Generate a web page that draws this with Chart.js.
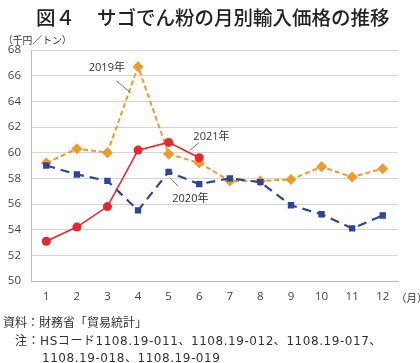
<!DOCTYPE html>
<html><head><meta charset="utf-8">
<script src="https://cdn.jsdelivr.net/npm/chart.js@4.4.0/dist/chart.umd.min.js"></script>
<style>
html,body{margin:0;padding:0;background:#fff;}
#wrap{position:relative;width:420px;height:363px;overflow:hidden;font-family:"Noto Sans CJK JP","Noto Sans",sans-serif;color:#333;}
#c{position:absolute;left:0;top:0;}
.t{position:absolute;white-space:nowrap;}
.f{font-family:"DejaVu Sans","Noto Sans CJK JP",sans-serif;font-size:12px;color:#333;}
</style></head><body>
<div id="wrap">
<canvas id="c" width="420" height="363"></canvas>
<div class="t" style="left:36px;top:2px;font-size:19.5px;font-weight:500;color:#222;">図４</div>
<div class="t" style="left:97px;top:2px;font-size:19.5px;font-weight:500;color:#222;">サゴでん粉の月別輸入価格の推移</div>
<div class="t" style="left:3px;top:33px;font-size:9.8px;">（千円／トン）</div>
<div class="t" style="left:396px;top:290px;font-size:10.5px;">（月）</div>
<div class="t f" style="left:3px;top:313px;">資料：財務省「貿易統計」</div>
<div class="t f" style="left:15px;top:331px;letter-spacing:0.55px;">注：HSコード1108.19-011、1108.19-012、1108.19-017、</div>
<div class="t f" style="left:42px;top:348px;letter-spacing:0.55px;">1108.19-018、1108.19-019</div>
</div>
<script>
const months = ["1","2","3","4","5","6","7","8","9","10","11","12"];
const yTicksMin = 50, yTicksMax = 68, yStep = 2;
const v2019 = [59.2, 60.3, 60.0, 66.7, 59.9, 59.2, 57.8, 57.8, 57.9, 58.9, 58.1, 58.75];
const v2020 = [59.0, 58.3, 57.8, 55.5, 58.5, 57.55, 58.0, 57.7, 55.9, 55.2, 54.1, 55.1];
const v2021 = [53.1, 54.2, 55.8, 60.2, 60.8, 59.6];
const seriesNames = ["2019年", "2020年", "2021年"];

const labelPlugin = {
  id: 'seriesLabels',
  afterDatasetsDraw(chart) {
    const {ctx, scales: {x, y}} = chart;
    ctx.save();
    ctx.font = '11px "Open Sans", "Noto Sans CJK JP", sans-serif';
    ctx.fillStyle = '#333';
    ctx.strokeStyle = '#555';
    ctx.lineWidth = 0.8;
    ctx.textAlign = 'center';
    ctx.textBaseline = 'middle';
    const items = [
      {name: seriesNames[0], tx: 1.98, ty: 66.6, l: [[2.29, 65.6], [2.75, 64.7]]},
      {name: seriesNames[2], tx: 5.4, ty: 61.2, l: [[5.0, 60.8], [4.7, 60.2]]},
      {name: seriesNames[1], tx: 4.71, ty: 56.4, l: [[4.31, 57.4], [4.05, 58.0]]}
    ];
    items.forEach(it => {
      ctx.fillText(it.name, x.getPixelForValue(it.tx), y.getPixelForValue(it.ty));
      ctx.beginPath();
      ctx.moveTo(x.getPixelForValue(it.l[0][0]), y.getPixelForValue(it.l[0][1]));
      ctx.lineTo(x.getPixelForValue(it.l[1][0]), y.getPixelForValue(it.l[1][1]));
      ctx.stroke();
    });
    ctx.restore();
  }
};

new Chart(document.getElementById('c'), {
  type: 'line',
  data: {
    labels: months,
    datasets: [
      {label: seriesNames[2], data: v2021, borderColor: '#E8262C', backgroundColor: '#E8262C',
       borderWidth: 1.6, pointStyle: 'circle', pointRadius: 4.5, pointBorderWidth: 0, order: 1},
      {label: seriesNames[1], data: v2020, borderColor: '#2B459B', backgroundColor: '#2B459B',
       borderWidth: 2.2, borderDash: [9, 6], pointStyle: 'rect', pointRadius: 4.5, pointBorderWidth: 0, order: 2},
      {label: seriesNames[0], data: v2019, borderColor: '#F09A2A', backgroundColor: '#F09A2A',
       borderWidth: 2, borderDash: [5, 3], pointStyle: 'rectRot', pointRadius: 5.5, pointBorderWidth: 0, order: 3}
    ]
  },
  options: {
    responsive: false,
    animation: false,
    devicePixelRatio: 1,
    layout: {padding: {left: 0, right: 22, top: 50, bottom: 53}},
    plugins: {legend: {display: false}, tooltip: {enabled: false}},
    elements: {line: {tension: 0}},
    scales: {
      x: {
        offset: true,
        grid: {display: false, drawTicks: false},
        border: {color: '#bbb'},
        ticks: {color: '#444', font: {size: 11.5, family: '"Open Sans", sans-serif'}, padding: 9},
        afterFit(s) { s.height = 29; }
      },
      y: {
        min: yTicksMin, max: yTicksMax,
        grid: {color: '#d4d4d4', drawTicks: false},
        border: {color: '#bbb'},
        ticks: {stepSize: yStep, color: '#444', font: {size: 11.5, family: '"Open Sans", sans-serif'}, padding: 10},
        afterFit(s) { s.width = 31; }
      }
    }
  },
  plugins: [labelPlugin]
});
</script>
</body></html>
